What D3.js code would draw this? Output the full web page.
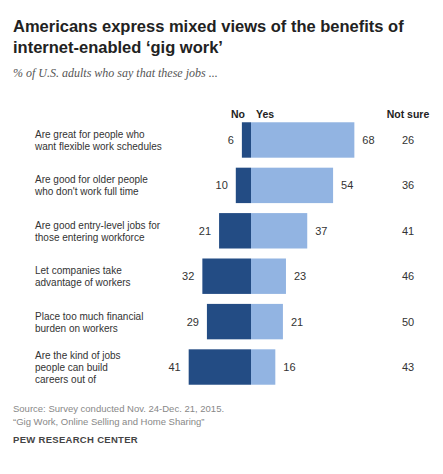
<!DOCTYPE html>
<html><head><meta charset="utf-8">
<script src="https://cdn.jsdelivr.net/npm/d3@7"></script>
<style>body{margin:0;background:#fff;font-family:Arial,"Liberation Sans",sans-serif}</style>
</head><body><svg id="chart" width="443" height="474"></svg>
<script>
// Chart data
const categories = [
    ["Are great for people who", "want flexible work schedules"],
    ["Are good for older people", "who don't work full time"],
    ["Are good entry-level jobs for", "those entering workforce"],
    ["Let companies take", "advantage of workers"],
    ["Place too much financial", "burden on workers"],
    ["Are the kind of jobs", "people can build", "careers out of"]
];
const noValues = [6, 10, 21, 32, 29, 41];
const yesValues = [68, 54, 37, 23, 21, 16];
const notSureValues = [26, 36, 41, 46, 50, 43];

const svg = d3.select('#chart');
const zeroX = 251;
const x = d3.scaleLinear().domain([-45, 70]).range([zeroX - 45 * 1.52, zeroX + 70 * 1.52]);
const y = d3.scaleBand().domain(d3.range(categories.length)).range([120, 387]).paddingInner(0.22).paddingOuter(0.05);

// Title and subtitle
svg.append('text').attr('x', 13).attr('y', 32).attr('font-size', 16.5).attr('font-weight', 'bold').attr('fill', '#222')
    .text('Americans express mixed views of the benefits of');
svg.append('text').attr('x', 13).attr('y', 53).attr('font-size', 16.5).attr('font-weight', 'bold').attr('fill', '#222')
    .text('internet-enabled \u2018gig work\u2019');
svg.append('text').attr('x', 13).attr('y', 77).attr('font-size', 12).attr('font-style', 'italic').attr('fill', '#555')
    .attr('font-family', '"Liberation Serif",Georgia,serif').text('% of U.S. adults who say that these jobs ...');

// Column headers
const hdr = svg.append('g').attr('font-size', 10.5).attr('font-weight', 'bold').attr('fill', '#222');
hdr.append('text').attr('x', zeroX - 6).attr('y', 118).attr('text-anchor', 'end').text('No');
hdr.append('text').attr('x', zeroX + 5).attr('y', 118).text('Yes');
hdr.append('text').attr('x', 408).attr('y', 118).attr('text-anchor', 'middle').text('Not sure');

const rows = svg.append('g').selectAll('g').data(categories).join('g');

rows.each(function(lines, i) {
    const g = d3.select(this);
    const bh = y.bandwidth();
    const cy = y(i) + bh / 2;
    g.append('rect').attr('x', x(-noValues[i])).attr('y', y(i)).attr('width', x(0) - x(-noValues[i])).attr('height', bh).attr('fill', '#234c84');
    g.append('rect').attr('x', x(0)).attr('y', y(i)).attr('width', x(yesValues[i]) - x(0)).attr('height', bh).attr('fill', '#92b4e2');
    g.append('text').attr('x', x(-noValues[i]) - 8).attr('y', cy + 4).attr('text-anchor', 'end').attr('font-size', 11).attr('fill', '#333').text(noValues[i]);
    g.append('text').attr('x', x(yesValues[i]) + 8).attr('y', cy + 4).attr('font-size', 11).attr('fill', '#333').text(yesValues[i]);
    g.append('text').attr('x', 408).attr('y', cy + 4).attr('text-anchor', 'middle').attr('font-size', 11).attr('fill', '#333').text(notSureValues[i]);
    const lh = 12;
    const t = g.append('text').attr('font-size', 10).attr('fill', '#333');
    lines.forEach((ln, k) => {
        t.append('tspan').attr('x', 35).attr('y', cy + 4 + (k - (lines.length - 1) / 2) * lh).text(ln);
    });
});

// Source notes
const src = svg.append('g').attr('font-size', 9.5).attr('fill', '#888');
src.append('text').attr('x', 13).attr('y', 412).text('Source: Survey conducted Nov. 24-Dec. 21, 2015.');
src.append('text').attr('x', 13).attr('y', 425).text('\u201cGig Work, Online Selling and Home Sharing\u201d');
svg.append('text').attr('x', 13).attr('y', 443).attr('font-size', 9.5).attr('font-weight', 'bold').attr('fill', '#444')
    .attr('letter-spacing', 0.3).text('PEW RESEARCH CENTER');
</script></body></html>
